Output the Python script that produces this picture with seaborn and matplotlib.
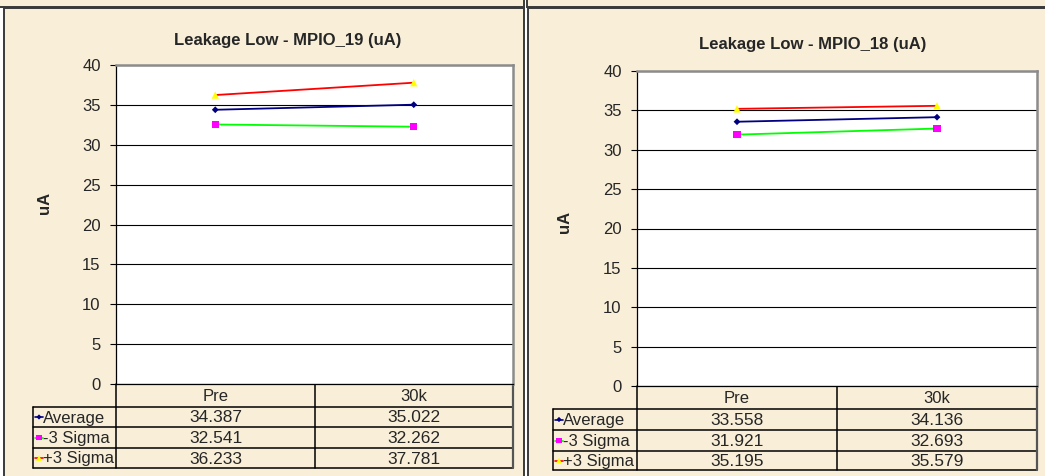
import pandas as pd
import seaborn as sns
import matplotlib.pyplot as plt
from matplotlib.patches import Rectangle

# data
categories = ['Pre', '30k']
series_names = ['Average', '-3 Sigma', '+3 Sigma']

mpio19_avg = [34.387, 35.022]
mpio19_minus = [32.541, 32.262]
mpio19_plus = [36.233, 37.781]

mpio18_avg = [33.558, 34.136]
mpio18_minus = [31.921, 32.693]
mpio18_plus = [35.195, 35.579]

y_ticks = [0, 5, 10, 15, 20, 25, 30, 35, 40]

sns.set_style('white')
plt.rcParams['font.family'] = ['Liberation Sans', 'DejaVu Sans']

W, H = 1045, 476
BG = '#f9efd9'
line_colors = {'Average': '#000080', '-3 Sigma': '#00ff00', '+3 Sigma': '#ff0000'}
marker_colors = {'Average': '#000080', '-3 Sigma': '#ff00ff', '+3 Sigma': '#ffff00'}
marker_shapes = {'Average': 'D', '-3 Sigma': 's', '+3 Sigma': '^'}
marker_sizes = {'Average': 12, '-3 Sigma': 28, '+3 Sigma': 28}


def box(x0, y0, x1, y1):
    return [x0 / W, 1 - y1 / H, (x1 - x0) / W, (y1 - y0) / H]


fig = plt.figure(figsize=(W / 100, H / 100), dpi=100)
fig.patch.set_facecolor('white')

# overlay in pixel coordinates for panels and the data tables
ov = fig.add_axes([0, 0, 1, 1], zorder=0)
ov.set_xlim(0, W)
ov.set_ylim(H, 0)
ov.axis('off')

# frames of the neighbouring panels above and the two chart panels
for (x0, y0, x1, y1) in [(-5, -10, 524, 7), (527, -10, 1050, 7),
                         (4, 8, 524, 485), (528, 8, 1050, 485)]:
    ov.add_patch(Rectangle((x0, y0), x1 - x0, y1 - y0, facecolor=BG,
                           edgecolor='#3a3a3a', lw=1.4))


def draw_chart(rect, title, title_xy, ylabel_xy, avg, minus, plus, table):
    ax = fig.add_axes(box(*rect), zorder=1)
    df = pd.DataFrame({
        'stage': categories * 3,
        'series': [s for s in series_names for _ in categories],
        'value': avg + minus + plus,
    })
    sns.lineplot(data=df, x='stage', y='value', hue='series',
                 palette=line_colors, lw=1.3, legend=False, ax=ax, zorder=3)
    for name in series_names:
        sub = df[df['series'] == name]
        sns.scatterplot(data=sub, x='stage', y='value', color=marker_colors[name],
                        marker=marker_shapes[name], s=marker_sizes[name],
                        edgecolor='none', legend=False, ax=ax, zorder=4)
    ax.set_facecolor('white')
    ax.set_xlim(-0.5, 1.5)
    ax.set_ylim(0, 40)
    ax.set_yticks(y_ticks)
    ax.set_xticks([])
    ax.set_xlabel('')
    ax.set_ylabel('')
    ax.yaxis.grid(True, color='black', lw=0.8)
    ax.tick_params(axis='y', direction='out', length=4, width=0.8, pad=7,
                   labelsize=12, left=True, color='black')
    for s in ['left', 'bottom']:
        ax.spines[s].set_color('black')
        ax.spines[s].set_linewidth(0.9)
    for s in ['top', 'right']:
        ax.spines[s].set_color('#8c8c8c')
        ax.spines[s].set_linewidth(1.8)
    for s in ax.spines.values():
        s.set_visible(True)

    ov.text(title_xy[0], title_xy[1], title, ha='center', va='center',
            fontsize=12, fontweight='bold')
    ov.text(ylabel_xy[0], ylabel_xy[1], 'uA', ha='center', va='center',
            rotation=90, fontsize=12, fontweight='bold')

    # data table under the chart
    lx, c0, c1, c2 = table['cols']
    r0, r1, r2, r3, r4 = table['rows']
    kw = dict(color='black', lw=1.1)
    for y in [r1, r2, r3, r4]:
        ov.plot([lx, c2], [y, y], **kw)
    ov.plot([lx, lx], [r1, r4], **kw)
    for x in [c0, c1]:
        ov.plot([x, x], [r0, r4], **kw)
    ov.plot([c2, c2], [r0, r4], color='#555555', lw=1.6)
    for x, lab in zip([(c0 + c1) / 2, (c1 + c2) / 2], categories):
        ov.text(x, (r0 + r1) / 2 + 1, lab, ha='center', va='center', fontsize=12)
    rows = [r1, r2, r3, r4]
    for i, (name, vals) in enumerate(zip(series_names, [avg, minus, plus])):
        yc = (rows[i] + rows[i + 1]) / 2 + 1
        ov.plot([lx + 2, lx + 10], [yc - 1, yc - 1], color=line_colors[name], lw=1.2)
        ov.scatter([lx + 6], [yc - 1], color=marker_colors[name],
                   marker=marker_shapes[name], s=marker_sizes[name] * 0.6,
                   edgecolor='none', zorder=5)
        ov.text(lx + 10, yc, name, ha='left', va='center', fontsize=12)
        for x, v in zip([(c0 + c1) / 2, (c1 + c2) / 2], vals):
            ov.text(x, yc, f'{v:.3f}', ha='center', va='center', fontsize=12.5)
    return ax


draw_chart((116, 65, 513, 384), 'Leakage Low - MPIO_19 (uA)', (288, 40), (45, 203),
           mpio19_avg, mpio19_minus, mpio19_plus,
           {'cols': (33, 116, 315, 513), 'rows': (384, 407, 427, 448, 468)})
draw_chart((637, 71, 1037, 386), 'Leakage Low - MPIO_18 (uA)', (813, 45), (565, 222),
           mpio18_avg, mpio18_minus, mpio18_plus,
           {'cols': (553, 637, 837, 1037), 'rows': (386, 409, 430, 451, 470)})

fig.savefig('out.png', dpi=100, facecolor=fig.get_facecolor())
